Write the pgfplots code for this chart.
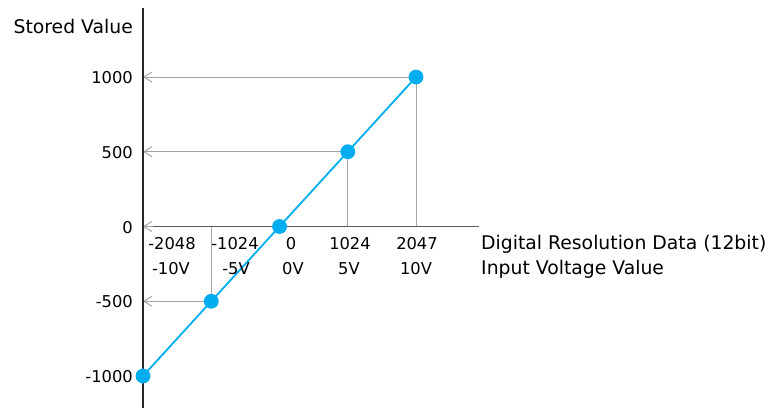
\documentclass[border=0pt]{standalone}
\usepackage{fontspec}
\setmainfont{DejaVu Sans}
\usepackage{pgfplots}
\pgfplotsset{compat=1.18}
\usetikzlibrary{arrows.meta}
\definecolor{lineblue}{RGB}{0,174,239}
\definecolor{refgray}{RGB}{165,165,165}
\definecolor{axgray}{RGB}{90,90,90}
\begin{document}
\begin{tikzpicture}[x=1pt,y=1pt]
\path[use as bounding box] (0,0) rectangle (776,408);
\begin{axis}[
  at={(143pt,32pt)}, anchor=south west,
  scale only axis, width=273pt, height=299pt,
  xmin=-2048, xmax=2047, ymin=-1000, ymax=1000,
  enlargelimits=false, axis lines=none, clip=false,
  ]
% reference lines
\addplot[refgray, line width=1pt, -{Straight Barb[length=8pt,width=10pt]}] coordinates {(2047,1000) (-2048,1000)};
\addplot[refgray, line width=1pt, -{Straight Barb[length=8pt,width=10pt]}] coordinates {(1024,500) (-2048,500)};
\addplot[refgray, line width=1pt, -{Straight Barb[length=8pt,width=10pt]}] coordinates {(-1024,-500) (-2048,-500)};
\addplot[refgray, line width=1pt] coordinates {(2047,1000) (2047,0)};
\addplot[refgray, line width=1pt] coordinates {(1024,500) (1024,0)};
\addplot[refgray, line width=1pt] coordinates {(-1024,-500) (-1024,0)};
% x axis
\addplot[axgray, line width=1.2pt] coordinates {(2992,0) (-1990,0)};
\addplot[refgray, line width=1pt, -{Straight Barb[length=8pt,width=10pt]}] coordinates {(-1900,0) (-2048,0)};
% y axis
\addplot[black!85, line width=1.4pt] coordinates {(-2048,1461) (-2048,-1214)};
% data
\addplot[lineblue, line width=1.8pt, mark=*, mark size=6.5pt, mark options={fill=lineblue, draw=lineblue}]
  coordinates {(-2048,-1000) (-1024,-500) (0,0) (1024,500) (2047,1000)};
\end{axis}
\fontsize{16.3}{19}\selectfont
\node[anchor=base east, inner sep=0pt] at (133,325) {1000};
\node[anchor=base east, inner sep=0pt] at (133,250) {500};
\node[anchor=base east, inner sep=0pt] at (133,175) {0};
\node[anchor=base east, inner sep=0pt] at (133,101) {-500};
\node[anchor=base east, inner sep=0pt] at (133,26) {-1000};
\node[anchor=base, inner sep=0pt] at (172,159) {-2048};
\node[anchor=base, inner sep=0pt] at (235,159) {-1024};
\node[anchor=base, inner sep=0pt] at (291,159) {0};
\node[anchor=base, inner sep=0pt] at (350,159) {1024};
\node[anchor=base, inner sep=0pt] at (417,159) {2047};
\node[anchor=base, inner sep=0pt] at (171,134) {-10V};
\node[anchor=base, inner sep=0pt] at (236,134) {-5V};
\node[anchor=base, inner sep=0pt] at (293,134) {0V};
\node[anchor=base, inner sep=0pt] at (349,134) {5V};
\node[anchor=base, inner sep=0pt] at (416,134) {10V};
\fontsize{18.8}{22}\selectfont
\node[anchor=base east, inner sep=0pt] at (133,374) {Stored Value};
\node[anchor=base west, inner sep=0pt] at (481,159) {Digital Resolution Data (12bit)};
\node[anchor=base west, inner sep=0pt] at (481,134) {Input Voltage Value};
\end{tikzpicture}
\end{document}
